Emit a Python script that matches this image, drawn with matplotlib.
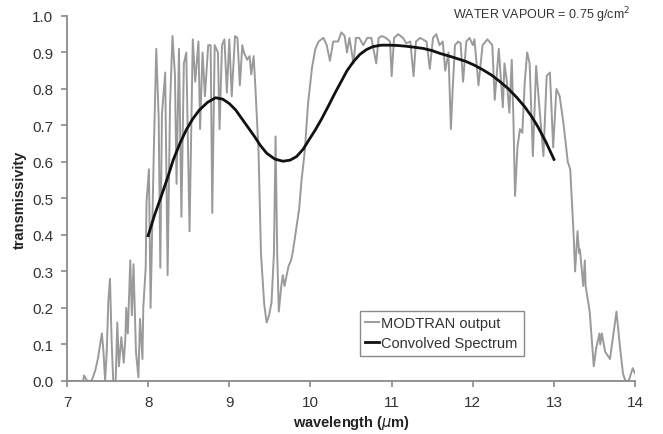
import matplotlib
matplotlib.use("Agg")
import matplotlib.pyplot as plt

# MODTRAN transmissivity
modtran_wl = [7.00, 7.20, 7.21, 7.25, 7.30, 7.32, 7.35, 7.38, 7.43, 7.45, 7.47, 7.49, 7.51,
              7.53, 7.55, 7.57, 7.60, 7.62, 7.64, 7.67, 7.70, 7.72, 7.73, 7.75, 7.78, 7.80,
              7.82, 7.85, 7.88, 7.90, 7.93, 7.94, 7.97, 7.98, 8.01, 8.03, 8.07, 8.10, 8.13,
              8.15, 8.17, 8.21, 8.24, 8.27, 8.30, 8.33, 8.35, 8.38, 8.41, 8.44, 8.47, 8.51,
              8.55, 8.58, 8.62, 8.64, 8.67, 8.70, 8.74, 8.77, 8.79, 8.82, 8.86, 8.88, 8.91,
              8.94, 8.97, 9.00, 9.03, 9.07, 9.10, 9.13, 9.16, 9.18, 9.22, 9.25, 9.27, 9.30,
              9.32, 9.36, 9.39, 9.43, 9.46, 9.49, 9.52, 9.55, 9.57, 9.59, 9.61, 9.64, 9.66,
              9.68, 9.73, 9.76, 9.78, 9.82, 9.86, 9.89, 9.93, 9.97, 10.02, 10.06, 10.10,
              10.16, 10.20, 10.24, 10.28, 10.34, 10.38, 10.42, 10.45, 10.48, 10.53, 10.56,
              10.60, 10.65, 10.70, 10.75, 10.81, 10.84, 10.88, 10.93, 10.98, 11.00, 11.03,
              11.08, 11.14, 11.18, 11.23, 11.27, 11.30, 11.35, 11.39, 11.43, 11.47, 11.51,
              11.55, 11.59, 11.63, 11.66, 11.70, 11.73, 11.75, 11.78, 11.82, 11.85, 11.88,
              11.92, 11.96, 12.00, 12.02, 12.07, 12.12, 12.18, 12.24, 12.27, 12.32, 12.37,
              12.39, 12.42, 12.45, 12.48, 12.50, 12.52, 12.55, 12.58, 12.61, 12.64, 12.67,
              12.70, 12.74, 12.78, 12.82, 12.87, 12.91, 12.95, 12.99, 13.03, 13.07, 13.12,
              13.17, 13.20, 13.24, 13.26, 13.29, 13.31, 13.32, 13.36, 13.38, 13.39, 13.44,
              13.49, 13.52, 13.56, 13.57, 13.59, 13.63, 13.69, 13.77, 13.81, 13.85, 13.88,
              13.92, 13.97, 14.00]
modtran_t = [0.00, 0.00, 0.015, 0.00, 0.00, 0.01, 0.03, 0.06, 0.13, 0.08, 0.00, 0.08, 0.22,
             0.28, 0.11, 0.00, 0.00, 0.16, 0.04, 0.12, 0.05, 0.12, 0.20, 0.13, 0.33, 0.18,
             0.32, 0.08, 0.01, 0.17, 0.06, 0.20, 0.31, 0.49, 0.58, 0.20, 0.63, 0.91, 0.72,
             0.31, 0.73, 0.845, 0.29, 0.76, 0.945, 0.84, 0.54, 0.91, 0.45, 0.87, 0.90, 0.41,
             0.936, 0.82, 0.93, 0.69, 0.90, 0.78, 0.92, 0.92, 0.46, 0.92, 0.90, 0.69, 0.92,
             0.936, 0.79, 0.936, 0.78, 0.945, 0.94, 0.81, 0.92, 0.90, 0.88, 0.89, 0.84, 0.89,
             0.81, 0.63, 0.35, 0.21, 0.16, 0.18, 0.215, 0.35, 0.67, 0.35, 0.19, 0.26, 0.29,
             0.26, 0.315, 0.33, 0.35, 0.41, 0.47, 0.55, 0.63, 0.76, 0.86, 0.91, 0.93,
             0.94, 0.92, 0.877, 0.93, 0.93, 0.955, 0.946, 0.90, 0.94, 0.87, 0.94,
             0.94, 0.92, 0.94, 0.94, 0.87, 0.94, 0.945, 0.94, 0.93, 0.835, 0.94,
             0.95, 0.94, 0.925, 0.93, 0.835, 0.93, 0.94, 0.935, 0.93, 0.855, 0.94,
             0.95, 0.92, 0.93, 0.85, 0.90, 0.69, 0.79, 0.92, 0.93, 0.925, 0.82,
             0.93, 0.94, 0.92, 0.936, 0.81, 0.92, 0.936, 0.92, 0.77, 0.91, 0.75,
             0.87, 0.82, 0.735, 0.88, 0.72, 0.507, 0.64, 0.69, 0.68, 0.82, 0.90,
             0.87, 0.616, 0.863, 0.75, 0.616, 0.836, 0.845, 0.64, 0.80, 0.78, 0.70,
             0.60, 0.58, 0.41, 0.30, 0.41, 0.35, 0.36, 0.26, 0.33, 0.26, 0.19,
             0.04, 0.09, 0.13, 0.10, 0.13, 0.08, 0.06, 0.19, 0.10, 0.02, 0.00,
             0.00, 0.035, 0.02]

# convolved spectrum
conv_wl = [8.00, 8.08, 8.16, 8.24, 8.31, 8.39, 8.47, 8.55, 8.63, 8.73, 8.83, 8.92, 9.00,
           9.08, 9.15, 9.23, 9.31, 9.38, 9.46, 9.56, 9.66, 9.75, 9.83, 9.91, 9.98, 10.06,
           10.14, 10.22, 10.30, 10.38, 10.45, 10.53, 10.61, 10.69, 10.77, 10.87, 10.97,
           11.08, 11.18, 11.29, 11.39, 11.50, 11.60, 11.71, 11.81, 11.92, 12.02, 12.12,
           12.23, 12.33, 12.44, 12.54, 12.64, 12.72, 12.80, 12.90, 13.00]
conv_t = [0.398, 0.455, 0.505, 0.557, 0.606, 0.650, 0.688, 0.718, 0.742, 0.763, 0.776,
          0.772, 0.760, 0.742, 0.720, 0.695, 0.670, 0.646, 0.624, 0.608, 0.602, 0.605,
          0.615, 0.635, 0.660, 0.688, 0.719, 0.753, 0.788, 0.821, 0.850, 0.875, 0.895,
          0.908, 0.916, 0.920, 0.920, 0.919, 0.917, 0.914, 0.911, 0.905, 0.897, 0.890,
          0.883, 0.875, 0.865, 0.853, 0.838, 0.821, 0.800, 0.777, 0.751, 0.726, 0.697,
          0.655, 0.607]

xticks = [7, 8, 9, 10, 11, 12, 13, 14]
yticks = [0.0, 0.1, 0.2, 0.3, 0.4, 0.5, 0.6, 0.7, 0.8, 0.9, 1.0]

plt.rcParams['font.family'] = ['Liberation Sans', 'DejaVu Sans']

fig = plt.figure(figsize=(6.63, 4.35), dpi=100)
ax = fig.add_axes([0.101, 0.122, 0.857, 0.839])

ax.plot(modtran_wl, modtran_t, color='#9a9a9a', lw=1.4, label='MODTRAN output')
ax.plot(conv_wl, conv_t, color='#111111', lw=2.0, label='Convolved Spectrum')

ax.set_xlim(7, 14)
ax.set_ylim(0, 1.0)
ax.set_xticks(xticks)
ax.set_yticks(yticks)
ax.set_yticklabels(['%.1f' % v for v in yticks])

for s in ['top', 'right']:
    ax.spines[s].set_visible(False)
for s in ['left', 'bottom']:
    ax.spines[s].set_color('#8a8a8a')
    ax.spines[s].set_linewidth(1.3)
ax.tick_params(direction='out', length=4, width=1.2, color='#8a8a8a',
               labelsize=11, labelcolor='#333333', pad=6)

ax.set_xlabel(r'wavelength ($\mu$m)', fontsize=10.5, fontweight='bold', color='#222222', labelpad=3)
ax.set_ylabel('transmissivity', fontsize=10.5, fontweight='bold', color='#222222', labelpad=4)

fig.text(0.951, 0.965, r'WATER VAPOUR = 0.75 g/cm$^2$', ha='right', va='center',
         fontsize=9, color='#333333')

leg = ax.legend(loc='lower left', bbox_to_anchor=(0.515, 0.068), fancybox=False,
                framealpha=1, edgecolor='#8a8a8a', fontsize=10.5, handlelength=0.9,
                handletextpad=0.2, borderpad=0.4, labelspacing=0.4, borderaxespad=0)
leg.get_frame().set_linewidth(1.0)
for t in leg.get_texts():
    t.set_color('#333333')

fig.savefig('out.png', dpi=100)
